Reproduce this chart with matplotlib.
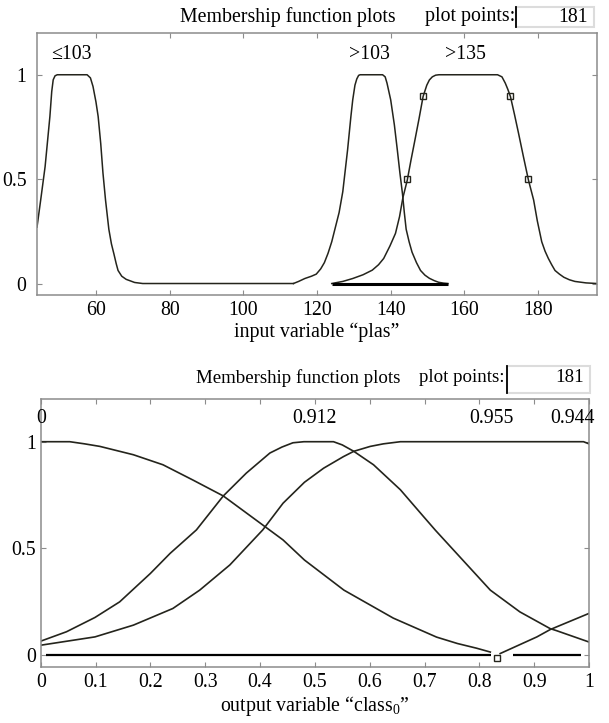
import matplotlib
matplotlib.use("Agg")
import matplotlib.pyplot as plt
from matplotlib.patches import Rectangle
from matplotlib.lines import Line2D

plt.rcParams["font.family"] = ["Liberation Serif", "DejaVu Serif"]
plt.rcParams["mathtext.fontset"] = "custom"
plt.rcParams["mathtext.rm"] = "Liberation Serif"
plt.rcParams["mathtext.it"] = "Liberation Serif"

# ---- input variable "plas" ----
PLAS_LOW_X = [44, 45, 46.2, 47.5, 48.0, 48.4, 48.9, 49.5, 57.6, 58.5, 59.2, 60.0,
              60.6, 61.3, 61.9, 62.6, 63.5, 64.2, 64.9, 65.5, 66.0, 67.0, 68.2,
              70.5, 72.7, 113.6]
PLAS_LOW_Y = [0.27, 0.40, 0.56, 0.80, 0.92, 0.976, 0.995, 1, 1, 0.985, 0.944, 0.87,
              0.80, 0.67, 0.53, 0.40, 0.26, 0.19, 0.14, 0.095, 0.0625, 0.035, 0.02,
              0.005, 0, 0]
PLAS_MID_X = [113.6, 115.0, 116.7, 118.5, 119.8, 121.0, 122.0, 123.0, 124.0, 125.0,
              126.0, 127.0, 128.3, 129.2, 129.7, 130.3, 130.8, 131.3, 131.7, 137.8,
              138.5, 139.0, 139.5, 140.0, 141.0, 141.8, 142.5, 143.2, 143.7, 144.2,
              145.0, 145.8, 147.0, 148.1, 149.3, 150.5, 151.8, 153.0, 154.3, 155.5]
PLAS_MID_Y = [0, 0.01, 0.024, 0.035, 0.045, 0.07, 0.10, 0.145, 0.20, 0.27,
              0.34, 0.44, 0.64, 0.80, 0.88, 0.95, 0.98, 0.997, 1, 1,
              0.99, 0.96, 0.92, 0.88, 0.76, 0.64, 0.53, 0.43, 0.34, 0.26,
              0.20, 0.15, 0.10, 0.0625, 0.04, 0.025, 0.014, 0.006, 0.002, 0]
PLAS_HIGH_X = [124, 127, 129.7, 132.5, 135.0, 136.7, 138.1, 139.8, 141.3, 142.4,
               143.3, 144.5, 145.5, 146.5, 147.7, 148.8, 149.8, 150.5, 151.3, 152.2,
               153.1, 169.0, 170.2, 171.1, 171.8, 172.5, 173.6, 174.7, 176.0, 177.4,
               178.8, 179.8, 181.0, 181.9, 182.8, 183.7, 184.6, 185.8, 187.0, 188.5,
               190.0, 193.0, 196.0]
PLAS_HIGH_Y = [0, 0.01, 0.024, 0.042, 0.064, 0.09, 0.12, 0.18, 0.24, 0.32,
               0.41, 0.495, 0.59, 0.68, 0.79, 0.896, 0.95, 0.975, 0.99, 0.998,
               1, 1, 0.99, 0.96, 0.93, 0.896, 0.81, 0.72, 0.61, 0.495,
               0.40, 0.30, 0.20, 0.155, 0.12, 0.09, 0.0625, 0.045, 0.03, 0.018,
               0.01, 0.003, 0]
PLAS_BASE_X = [124, 155.5]
PLAS_BASE_Y = [0, 0]
PLAS_SQ_X = [144.5, 148.8, 172.5, 177.4]
PLAS_SQ_Y = [0.5, 0.9, 0.9, 0.5]
PLAS_NAMES = ["\u2264103", ">103", ">135"]
PLAS_NAME_X = [53.2, 134.2, 160.3]
PLAS_TICKS = [60, 80, 100, 120, 140, 160, 180]

# ---- output variable "class0" ----
CLS_A_X = [0, 0.03, 0.053, 0.08, 0.108, 0.169, 0.223, 0.278, 0.333, 0.405, 0.442,
           0.481, 0.553, 0.643, 0.722, 0.76, 0.795, 0.82]
CLS_A_Y = [1.0, 1.0, 1.0, 0.99, 0.978, 0.939, 0.892, 0.82, 0.746, 0.61, 0.54,
           0.446, 0.305, 0.174, 0.085, 0.055, 0.033, 0.015]
CLS_B_X = [0, 0.047, 0.099, 0.144, 0.2, 0.236, 0.284, 0.333, 0.375, 0.418,
           0.44, 0.46, 0.48, 0.534, 0.55, 0.571, 0.607, 0.656, 0.698, 0.72,
           0.82, 0.874, 0.929, 0.941, 1.0]
CLS_B_Y = [0.066, 0.11, 0.177, 0.25, 0.383, 0.477, 0.587, 0.746, 0.853, 0.947,
           0.975, 0.995, 1.0, 1.0, 0.985, 0.955, 0.892, 0.775, 0.65, 0.585,
           0.305, 0.203, 0.125, 0.115, 0.062]
CLS_C_X = [0, 0.099, 0.169, 0.241, 0.29, 0.345, 0.405, 0.442, 0.481, 0.516,
           0.552, 0.571, 0.601, 0.625, 0.656, 0.99, 1.0]
CLS_C_Y = [0.047, 0.086, 0.141, 0.219, 0.305, 0.423, 0.587, 0.712, 0.81, 0.876,
           0.93, 0.955, 0.978, 0.99, 1.0, 1.0, 0.99]
CLS_D_X = [0.838, 0.905, 0.929, 0.941, 1.0]
CLS_D_Y = [0.008, 0.086, 0.12, 0.133, 0.196]
CLS_ZERO_SEGS = [(0.01, 0.822), (0.862, 0.986)]
CLS_SQ_X = [0.833]
CLS_SQ_Y = [-0.015]
CLS_NAMES = ["0", "0.912", "0.955", "0.944"]
CLS_NAME_X = [0.0, 0.5, 0.822, 0.97]
CLS_TICKS = [0, 0.1, 0.2, 0.3, 0.4, 0.5, 0.6, 0.7, 0.8, 0.9, 1]
CLS_TICKLABELS = ["0", "0.1", "0.2", "0.3", "0.4", "0.5", "0.6", "0.7", "0.8", "0.9", "1"]
PLOT_POINTS = 181

W, H = 609, 723
LINE = "#24241c"
SPINE = "#8c8c8c"
FS = 14.3


def px(x, y):
    return x / W, 1 - y / H


def style_axes(ax, ypad, xpad):
    for s in ax.spines.values():
        s.set_color(SPINE)
        s.set_linewidth(1.1)
    ax.tick_params(direction="in", top=True, right=True, length=3.5, width=0.8,
                   color=SPINE, labelsize=FS)
    ax.tick_params(axis="y", pad=ypad)
    ax.tick_params(axis="x", pad=xpad)
    ax.set_ylim(-0.055, 1.2)
    ax.set_yticks([0, 0.5, 1])
    ax.set_yticklabels(["0", "0.5", "1"])


def header(y_text, box_top, box_bot, box_l, box_r, title_x, pp_x, fs):
    fig.text(*px(title_x, y_text), "Membership function plots", fontsize=fs,
             ha="left", va="center")
    fig.text(*px(pp_x, y_text), "plot points:", fontsize=fs, ha="left", va="center")
    x0, y0 = px(box_l, box_bot)
    x1, y1 = px(box_r, box_top)
    fig.add_artist(Rectangle((x0, y0), x1 - x0, y1 - y0, transform=fig.transFigure,
                             facecolor="white", edgecolor="#dcdcdc", lw=1.5))
    fig.add_artist(Line2D([x0, x0], [y0, y1], transform=fig.transFigure,
                          color="black", lw=1.3))
    fig.text(*px(box_r - 6, y_text), str(PLOT_POINTS), fontsize=fs,
             ha="right", va="center")


fig = plt.figure(figsize=(W / 100, H / 100), dpi=100)

# top panel
ax1 = fig.add_axes([37 / W, 1 - 295 / H, 560 / W, 262 / H])
ax1.plot(PLAS_LOW_X, PLAS_LOW_Y, color=LINE, lw=1.1)
ax1.plot(PLAS_MID_X, PLAS_MID_Y, color=LINE, lw=1.1)
ax1.plot(PLAS_HIGH_X, PLAS_HIGH_Y, color=LINE, lw=1.1)
ax1.plot(PLAS_BASE_X, PLAS_BASE_Y, color="black", lw=2.2, solid_capstyle="butt")
ax1.plot(PLAS_SQ_X, PLAS_SQ_Y, ls="none", marker="s", ms=4.5, mfc="none",
         mec=LINE, mew=1.0)
for name, xn in zip(PLAS_NAMES, PLAS_NAME_X):
    ax1.text(xn, 1.095, name, fontsize=FS, ha="center", va="center")
ax1.set_xlim(44, 196)
ax1.set_xticks(PLAS_TICKS)
style_axes(ax1, ypad=7.5, xpad=4.5)
ax1.set_xlabel("input variable \u201cplas\u201d", fontsize=FS, labelpad=2)
header(17, 7, 27, 516, 594, 180, 425, FS)

# bottom panel
ax2 = fig.add_axes([40.7 / W, 1 - 667 / H, 548.3 / W, 268 / H])
for xs, ys in [(CLS_A_X, CLS_A_Y), (CLS_B_X, CLS_B_Y), (CLS_C_X, CLS_C_Y),
               (CLS_D_X, CLS_D_Y)]:
    ax2.plot(xs, ys, color=LINE, lw=1.2)
for a, b in CLS_ZERO_SEGS:
    ax2.plot([a, b], [0, 0], color="black", lw=1.6, solid_capstyle="butt")
ax2.plot(CLS_SQ_X, CLS_SQ_Y, ls="none", marker="s", ms=5, mfc="white",
         mec=LINE, mew=1.0)
for name, xn in zip(CLS_NAMES, CLS_NAME_X):
    ax2.text(xn, 1.108, name, fontsize=FS, ha="center", va="center", clip_on=False)
ax2.set_xlim(0, 1)
ax2.set_xticks(CLS_TICKS)
ax2.set_xticklabels(CLS_TICKLABELS)
style_axes(ax2, ypad=3.5, xpad=4.5)
ax2.set_xlabel("output variable \u201cclass$_0$\u201d", fontsize=FS, labelpad=1)
header(378, 366, 393, 507, 590, 196, 419, 13.6)

fig.savefig("out.png", dpi=100)
